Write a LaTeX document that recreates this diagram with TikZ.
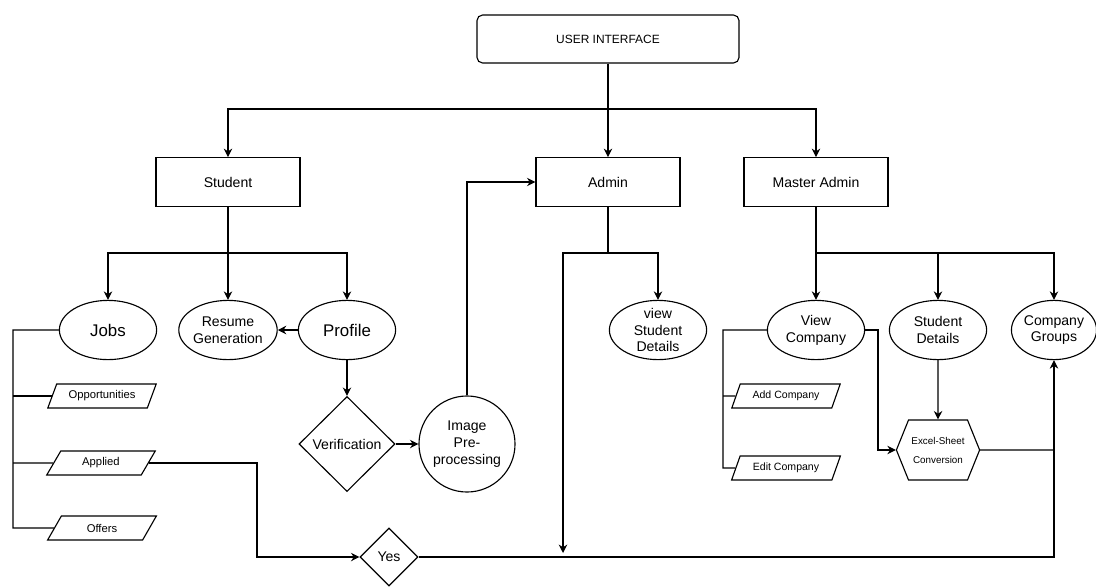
\documentclass[tikz,border=0pt]{standalone}
\usepackage{fontspec}
\setmainfont{Liberation Sans}
\usepackage{tikz}
\usetikzlibrary{positioning, shapes, arrows.meta}

\begin{document}
\begin{tikzpicture}[
        x=0.025cm, y=-0.025cm,
        line width=0.8pt,
        >={Stealth[length=6pt, width=6pt]},
        every node/.style={align=center, font=\normalsize, inner sep=0pt},
        top/.style={draw, rounded corners=4pt, minimum width=6.55cm, minimum height=1.2cm, font=\fontsize{8.5}{10}\selectfont},
        box/.style={draw, rectangle, minimum width=3.6cm, minimum height=1.22cm},
        oval/.style={draw, ellipse, minimum width=2.43cm, minimum height=1.48cm},
        decide/.style={draw, diamond, aspect=1},
        slant/.style={draw, trapezium, trapezium left angle=58, trapezium right angle=122,
            trapezium stretches=true, minimum width=2.72cm, minimum height=0.6cm, font=\footnotesize},
        hexa/.style={draw, signal, signal to=east and west, signal pointer angle=136,
            minimum width=2.08cm, minimum height=1.5cm, font=\fontsize{7}{13.5}\selectfont}
    ]
      \useasboundingbox (0,0) rectangle (1096,586);

      \node[top] (u1) at (608,39) {USER INTERFACE};
      \node[box] (s1) at (228,182) {Student};
      \node[box] (a1) at (608,182) {Admin};
      \node[box] (m1) at (816,182) {Master Admin};

      % student side
      \node[oval, font=\large] (s2) at (108,330) {Jobs};
      \node[oval] (s3) at (228,330) {Resume\\Generation};
      \node[oval, font=\large] (s4) at (347,330) {Profile};
      \node[decide, minimum width=2.4cm, minimum height=2.375cm] (s5) at (347,444) {Verification};
      \node[draw, circle, minimum size=2.4cm] (s6) at (467,444) {Image\\Pre-\\processing};
      \node[slant] (s7) at (102,396) {Opportunities};
      \node[slant] (s8) at (101,463) {Applied};
      \node[slant] (s9) at (102,528) {Offers};
      \node[decide, minimum size=1.45cm] (y1) at (389,557) {Yes};

      % admin side
      \node[oval, label={[align=center]center:view\\Student\\Details}] (a2) at (658,330) {};

      % master admin side
      \node[oval] (m2) at (816,330) {View\\Company};
      \node[oval] (m3) at (938,330) {Student\\Details};
      \node[oval, minimum width=2.1cm] (m4) at (1054,330) {Company\\Groups};
      \node[hexa] (m5) at (938,450) {Excel-Sheet\\Conversion};
      \node[slant, font=\fontsize{7.5}{9}\selectfont] (m6) at (786,396) {Add Company};
      \node[slant, font=\fontsize{7.5}{9}\selectfont] (m7) at (786,468) {Edit Company};

      \coordinate (b1) at (608,109);
      \coordinate (b2) at (228,253);
      \coordinate (b3) at (608,253);
      \coordinate (b4) at (816,253);
      \coordinate (a0) at (563,553);
      \coordinate (c1) at (13,528);
      \coordinate (c2) at (257,557);
      \coordinate (c3) at (723,468);
      \coordinate (c4) at (878,330);

      \draw [->] (u1) -- (a1);
      \draw [->] (b1) -| (s1);
      \draw [->] (b1) -| (m1);

      \draw [-] (s1) -- (b2);
      \draw [->] (b2) -| (s2);
      \draw [->] (b2) -- (s3);
      \draw [->] (b2) -| (s4);
      \draw [->] (s4) -- (s3);
      \draw [->] (s4) -- (s5);
      \draw [->] (s5) -- (s6);
      \draw [->] (s6) |- (a1);

      \draw [-] (s2) -| (c1) -- (s9);
      \draw [-] (c1 |- s7) -- (s7);
      \draw [-] (c1 |- s8) -- (s8);
      \draw [->] (s8) -| (c2) -- (y1);
      \draw [->] (y1) -| (m4);

      \draw [-] (a1) -- (b3);
      \draw [->] (b3) -| (a2);
      \draw [->] (b3) -| (a0);

      \draw [-] (m1) -- (b4);
      \draw [->] (b4) -- (m2);
      \draw [->] (b4) -| (m3);
      \draw [->] (b4) -| (m4);
      \draw [-] (m2) -| (c3) -- (m7);
      \draw [-] (c3 |- m6) -- (m6);
      \draw [->] (m2) -- (c4) |- (m5);
      \draw [->] (m3) -- (m5);
      \draw [-] (m5) -- (m4 |- m5);
    \end{tikzpicture}
\end{document}
